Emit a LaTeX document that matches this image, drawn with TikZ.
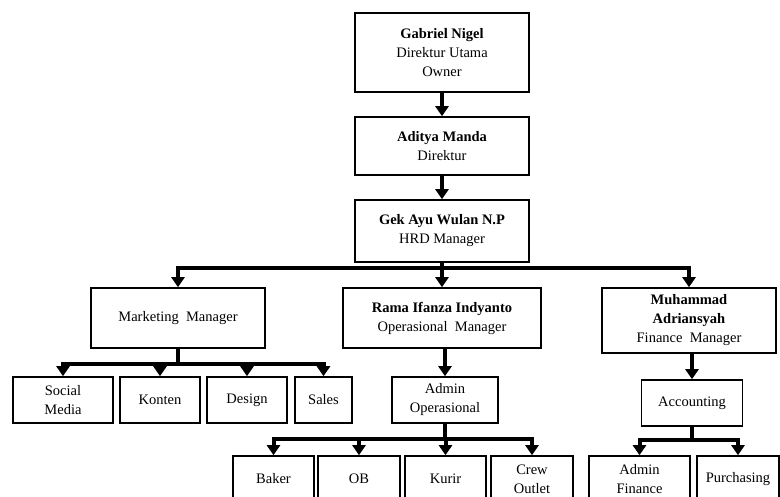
\documentclass[tikz,border=0pt]{standalone}
\usepackage{fontspec}
\setmainfont{Liberation Serif}
\usetikzlibrary{arrows.meta}
\begin{document}
\begin{tikzpicture}[x=1pt, y=-1pt,
        box/.style={draw, line width=1.6pt, align=center, inner sep=0pt,
            font=\fontsize{14.5}{19}\selectfont},
        wire/.style={line width=4pt, line join=miter},
        arr/.style={wire, -{Triangle[width=13pt,length=10pt]}}]
    \useasboundingbox (0, 0) rectangle (780, 497);
    \clip (0, 0) rectangle (780, 497);

    \node[box, minimum width=174, minimum height=79] (gabriel) at (442, 52.5)
        {\textbf{Gabriel Nigel}\\Direktur Utama\\Owner};
    \node[box, minimum width=174, minimum height=58] (aditya) at (442, 146)
        {\textbf{Aditya Manda}\\Direktur};
    \node[box, minimum width=174, minimum height=62] (gek) at (442, 231)
        {\textbf{Gek Ayu Wulan N.P}\\HRD Manager};

    \node[box, minimum width=174, minimum height=60] (mkt) at (178, 318)
        {Marketing\ \ Manager};
    \node[box, minimum width=198, minimum height=60] (rama) at (442, 318)
        {\textbf{Rama Ifanza Indyanto}\\Operasional\ \ Manager};
    \node[box, minimum width=174, minimum height=65] (fin) at (689, 320.5)
        {\textbf{Muhammad}\\\textbf{Adriansyah}\\Finance\ \ Manager};

    \node[box, minimum width=100, minimum height=46] (social) at (63, 400) {Social\\Media};
    \node[box, minimum width=80, minimum height=46] (konten) at (160, 400) {Konten};
    \node[box, minimum width=80, minimum height=46] (design) at (247, 400) {Design};
    \node[box, minimum width=57, minimum height=46] (sales) at (323.5, 400) {Sales};

    \node[box, minimum width=106, minimum height=46] (admin) at (445, 400)
        {Admin\\Operasional};
    \node[box, minimum width=101, minimum height=46] (acc) at (692, 403) {Accounting};

    \node[box, minimum width=81, minimum height=46] (baker) at (273.5, 479) {Baker};
    \node[box, minimum width=82, minimum height=46] (ob) at (359, 479) {OB};
    \node[box, minimum width=81, minimum height=46] (kurir) at (445.5, 479) {Kurir};
    \node[box, minimum width=82, minimum height=46] (crew) at (532, 479) {Crew\\Outlet};
    \node[box, minimum width=101, minimum height=46] (adfin) at (639.5, 479) {Admin\\Finance};
    \node[box, minimum width=82, minimum height=46] (purch) at (738, 479) {Purchasing};

    \coordinate (hrdbus) at (442, 268);
    \coordinate (mktbus) at (178, 364);
    \coordinate (admbus) at (445, 439);
    \coordinate (accbus) at (692, 440);

    \draw[arr] (gabriel) -- (aditya);
    \draw[arr] (aditya) -- (gek);
    \draw[wire] (gek) -- (hrdbus);
    \foreach \n in {mkt, rama, fin}
        \draw[arr] (hrdbus) -| (\n.north);

    \draw[wire] (mkt) -- (mktbus);
    \foreach \n in {social, konten, design, sales}
        \draw[arr] (mktbus) -| (\n.north);

    \draw[arr] (rama.south -| admin.north) -- (admin.north);
    \draw[wire] (admin) -- (admbus);
    \foreach \n in {baker, ob, kurir, crew}
        \draw[arr] (admbus) -| (\n.north);

    \draw[arr] (fin.south -| acc.north) -- (acc.north);
    \draw[wire] (acc) -- (accbus);
    \foreach \n in {adfin, purch}
        \draw[arr] (accbus) -| (\n.north);
\end{tikzpicture}
\end{document}
